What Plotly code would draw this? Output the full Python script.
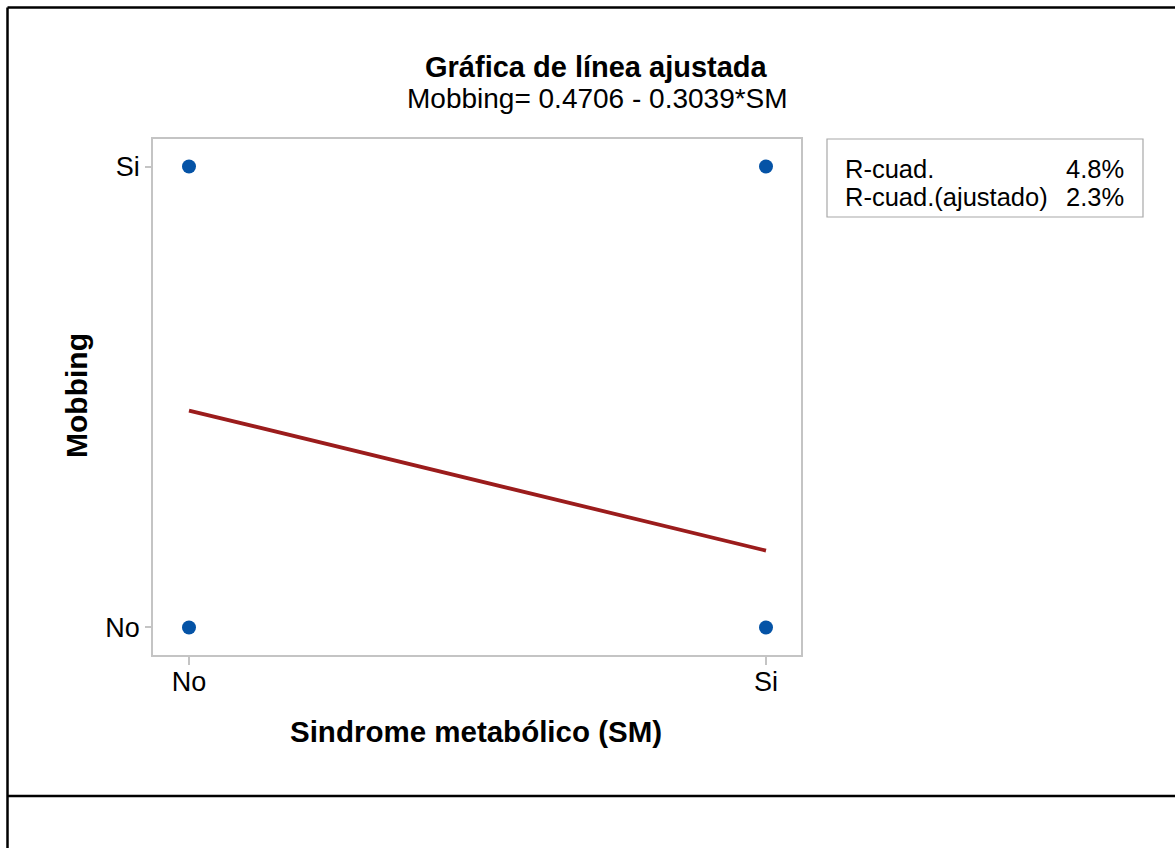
import plotly.graph_objects as go

# Data: Metabolic syndrome (SM) vs Mobbing, coded 0 = No, 1 = Si
sm_values = [0, 0, 1, 1]
mobbing_values = [0, 1, 0, 1]
tick_vals = [0, 1]
tick_text = ["No", "Si"]

# Fitted regression
intercept = 0.4706
slope = -0.3039
r_sq = "4.8%"
r_sq_adj = "2.3%"

fit_x = [0, 1]
fit_y = [intercept + slope * x for x in fit_x]

W, H = 1175, 848
FONT = "Arial, 'Liberation Sans', sans-serif"


def px(x):
    return x / W


def py(y):
    return 1 - y / H


fig = go.Figure()

fig.add_trace(go.Scatter(
    x=fit_x, y=fit_y, mode="lines",
    line=dict(color="#9b1c1c", width=3.8),
    hoverinfo="skip", showlegend=False,
))
fig.add_trace(go.Scatter(
    x=sm_values, y=mobbing_values, mode="markers",
    marker=dict(color="#0553a6", size=14),
    showlegend=False,
))

frame_color = "#c4c4c4"

fig.update_layout(
    width=W, height=H,
    margin=dict(l=0, r=0, t=0, b=0, pad=0),
    paper_bgcolor="white", plot_bgcolor="white",
    template="none",
    font=dict(family=FONT, color="black"),
    xaxis=dict(
        domain=[px(153), px(801)],
        range=[-36 / 577, 1 + 35 / 577],
        tickvals=tick_vals, ticktext=tick_text,
        ticks="outside", ticklen=8, tickwidth=1.5, tickcolor=frame_color,
        ticklabelstandoff=-6,
        tickfont=dict(size=27, family=FONT, color="black"),
        showgrid=False, zeroline=False,
        showline=True, linecolor=frame_color, linewidth=1.5, mirror=True,
        automargin=False,
    ),
    yaxis=dict(
        domain=[py(655), py(139)],
        range=[-27.5 / 460, 1 + 27.5 / 460],
        tickvals=tick_vals, ticktext=tick_text,
        ticks="outside", ticklen=6, tickwidth=1.5, tickcolor=frame_color,
        tickfont=dict(size=27, family=FONT, color="black"),
        showgrid=False, zeroline=False,
        showline=True, linecolor=frame_color, linewidth=1.5, mirror=True,
        automargin=False,
    ),
)

# Outer page frame lines
black_line = dict(color="black", width=2.5)
fig.add_shape(type="line", xref="paper", yref="paper",
              x0=px(7.5), x1=px(1176), y0=py(7.5), y1=py(7.5), line=black_line)
fig.add_shape(type="line", xref="paper", yref="paper",
              x0=px(7.5), x1=px(7.5), y0=py(7.5), y1=py(849), line=black_line)
fig.add_shape(type="line", xref="paper", yref="paper",
              x0=px(7.5), x1=px(1176), y0=py(796), y1=py(796), line=black_line)

# Statistics box
fig.add_shape(type="rect", xref="paper", yref="paper",
              x0=px(827), x1=px(1143), y0=py(217), y1=py(139),
              line=dict(color="#a8a8a8", width=1.2), fillcolor="white")


def text(x, y, s, size, bold=False, xanchor="center", angle=0):
    fig.add_annotation(
        x=px(x), y=py(y), xref="paper", yref="paper",
        text=f"<b>{s}</b>" if bold else s,
        showarrow=False, xanchor=xanchor, yanchor="middle",
        textangle=angle,
        font=dict(size=size, family=FONT, color="black"),
    )


text(596, 67, "Gráfica de línea ajustada", 29, bold=True)
text(597, 99, "Mobbing= 0.4706 - 0.3039*SM", 28)
text(476, 731, "Sindrome metabólico (SM)", 29.5, bold=True)
text(76, 396, "Mobbing", 30, bold=True, angle=-90)

text(843, 169, "R-cuad.", 25.5, xanchor="left")
text(843, 197, "R-cuad.(ajustado)", 25.5, xanchor="left")
text(1126, 169, r_sq, 25.5, xanchor="right")
text(1126, 197, r_sq_adj, 25.5, xanchor="right")

fig.write_html("out.html")
